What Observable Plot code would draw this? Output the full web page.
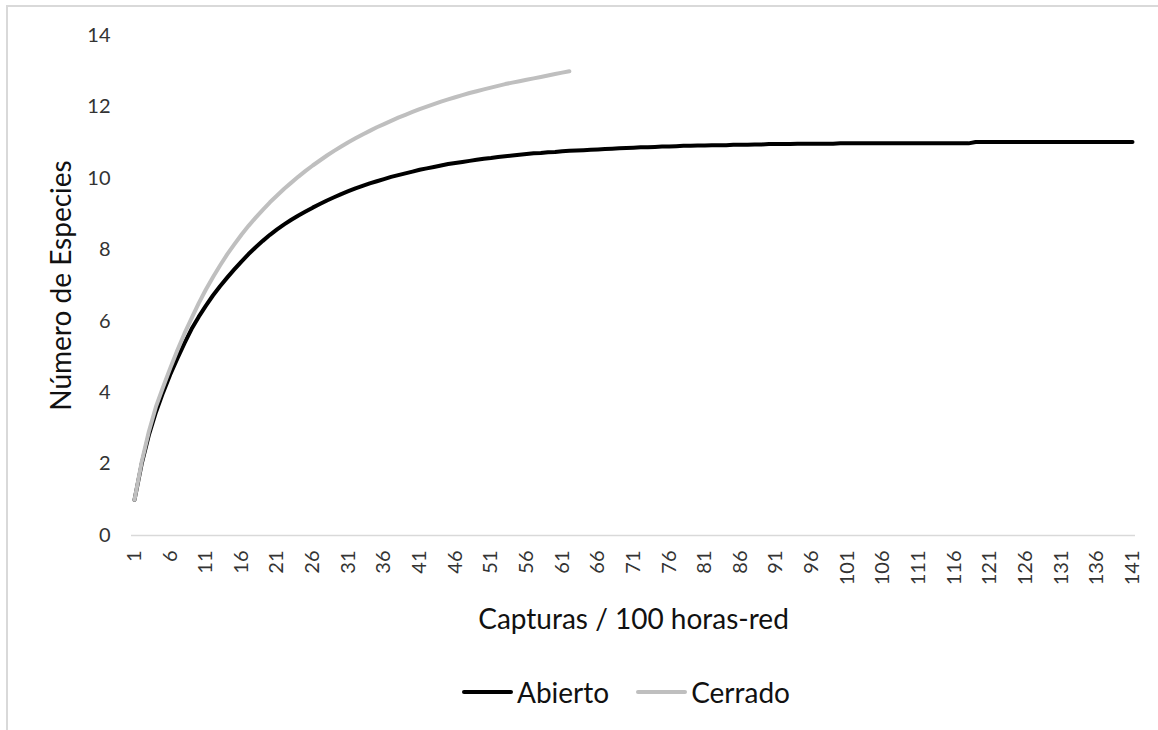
<!DOCTYPE html>
<html>
<head>
<meta charset="utf-8">
<script src="https://cdn.jsdelivr.net/npm/d3@7"></script>
<script src="https://cdn.jsdelivr.net/npm/@observablehq/plot@0.6"></script>
<style>
  html, body { margin: 0; padding: 0; background: #fff; overflow: hidden; }
  body { width: 1158px; height: 730px; position: relative; font-family: Lato, "Open Sans", sans-serif; }
  #chart { position: absolute; left: 0; top: 0; }
  #frame { position: absolute; left: 6px; top: 5px; width: 1200px; height: 800px;
           border-left: 2px solid #d9d9d9; border-top: 2px solid #d9d9d9; pointer-events: none; }
  #legend { position: absolute; left: 462px; top: 674px; height: 36px; display: flex;
            align-items: center; font-size: 28px; color: #111; }
  .item { display: flex; align-items: center; }
  .item + .item { margin-left: 27px; }
  .sw { width: 51px; height: 4px; border-radius: 2px; margin-right: 4px; }
</style>
</head>
<body>
<div id="chart"></div>
<div id="legend"></div>
<div id="frame"></div>
<script>
const seriesNames = ["Abierto", "Cerrado"];
const seriesColors = ["#000000", "#bfbfbf"];

const abierto = [
  1.00, 2.00, 2.80, 3.45, 4.00, 4.50, 4.95, 5.38, 5.78, 6.12,
  6.43, 6.72, 6.98, 7.22, 7.45, 7.67, 7.88, 8.07, 8.25, 8.42,
  8.57, 8.71, 8.84, 8.96, 9.07, 9.18, 9.28, 9.38, 9.47, 9.56,
  9.64, 9.72, 9.79, 9.86, 9.92, 9.98, 10.04, 10.09, 10.14, 10.19,
  10.24, 10.28, 10.32, 10.36, 10.40, 10.43, 10.46, 10.49, 10.52, 10.55,
  10.57, 10.60, 10.62, 10.64, 10.66, 10.68, 10.70, 10.71, 10.73, 10.74,
  10.76, 10.77, 10.78, 10.79, 10.80, 10.81, 10.82, 10.83, 10.84, 10.85,
  10.86, 10.87, 10.87, 10.88, 10.89, 10.89, 10.90, 10.91, 10.91, 10.92,
  10.92, 10.93, 10.93, 10.93, 10.94, 10.94, 10.94, 10.95, 10.95, 10.96,
  10.96, 10.96, 10.96, 10.97, 10.97, 10.97, 10.97, 10.97, 10.97, 10.98,
  10.98, 10.98, 10.98, 10.98, 10.98, 10.98, 10.98, 10.98, 10.98, 10.98,
  10.98, 10.98, 10.98, 10.98, 10.98, 10.98, 10.98, 10.98, 11.02, 11.02,
  11.02, 11.02, 11.02, 11.02, 11.02, 11.02, 11.02, 11.02, 11.02, 11.02,
  11.02, 11.02, 11.02, 11.02, 11.02, 11.02, 11.02, 11.02, 11.02, 11.02,
  11.02
];

const cerrado = [
  1.00, 2.05, 2.90, 3.60, 4.15, 4.68, 5.18, 5.65, 6.08, 6.50,
  6.88, 7.23, 7.56, 7.87, 8.15, 8.42, 8.67, 8.90, 9.12, 9.33,
  9.52, 9.71, 9.88, 10.05, 10.21, 10.36, 10.50, 10.64, 10.77, 10.89,
  11.01, 11.12, 11.23, 11.33, 11.43, 11.52, 11.61, 11.70, 11.78, 11.86,
  11.94, 12.01, 12.08, 12.15, 12.21, 12.27, 12.33, 12.39, 12.44, 12.49,
  12.54, 12.59, 12.64, 12.68, 12.72, 12.76, 12.80, 12.84, 12.88, 12.92,
  12.96, 13.00
];

const xTicks = [1, 6, 11, 16, 21, 26, 31, 36, 41, 46, 51, 56, 61, 66, 71, 76, 81, 86, 91, 96,
  101, 106, 111, 116, 121, 126, 131, 136, 141];
const yTicks = [0, 2, 4, 6, 8, 10, 12, 14];

const xLabel = "Capturas / 100 horas-red";
const yLabel = "Número de Especies";

const rows = [];
abierto.forEach((v, i) => rows.push({serie: seriesNames[0], captura: i + 1, especies: v}));
cerrado.forEach((v, i) => rows.push({serie: seriesNames[1], captura: i + 1, especies: v}));

const chart = Plot.plot({
  width: 1158,
  height: 650,
  marginLeft: 134,
  marginRight: 26,
  marginTop: 35,
  marginBottom: 115,
  style: {background: "transparent", fontFamily: "Lato, 'Open Sans', sans-serif", color: "#333"},
  x: {domain: [1, 141], ticks: xTicks, label: null},
  y: {domain: [0, 14], ticks: yTicks, label: null},
  color: {domain: seriesNames, range: seriesColors},
  marks: [
    Plot.ruleY([0], {stroke: "#d9d9d9", strokeWidth: 1.5, insetLeft: -3, insetRight: -3}),
    Plot.axisY({ticks: yTicks, tickSize: 0, tickPadding: 24, fontSize: 20, fill: "#333", label: null}),
    Plot.axisX({ticks: xTicks, tickSize: 0, tickPadding: 15, tickRotate: -90, fontSize: 20, fill: "#333", label: null}),
    Plot.line(rows, {x: "captura", y: "especies", z: "serie", stroke: "serie", strokeWidth: 4,
      strokeLinecap: "round", strokeLinejoin: "round"}),
    Plot.text([xLabel], {frameAnchor: "bottom", dy: 93, fontSize: 28, fill: "#111", text: d => d}),
    Plot.text([yLabel], {frameAnchor: "left", dx: -72, rotate: -90, textAnchor: "middle", fontSize: 28, fill: "#111", text: d => d})
  ]
});
document.getElementById("chart").appendChild(chart);

const legend = document.getElementById("legend");
seriesNames.forEach((name, i) => {
  const item = document.createElement("div");
  item.className = "item";
  const sw = document.createElement("div");
  sw.className = "sw";
  sw.style.background = seriesColors[i];
  const label = document.createElement("span");
  label.textContent = name;
  item.appendChild(sw);
  item.appendChild(label);
  legend.appendChild(item);
});
</script>
</body>
</html>
